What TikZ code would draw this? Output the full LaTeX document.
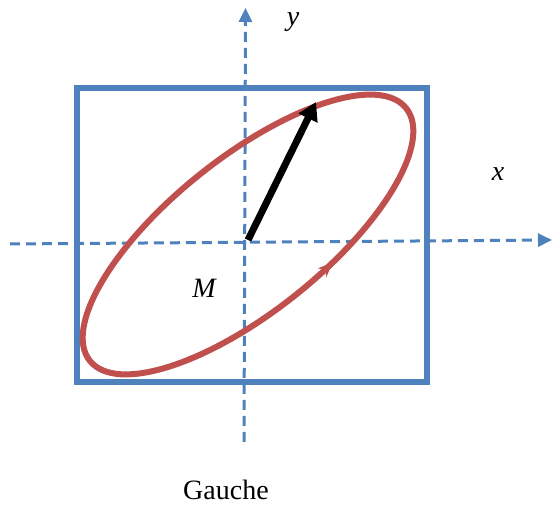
\documentclass[tikz,border=0pt]{standalone}
\usepackage{fontspec}
\setmainfont{Liberation Serif}
\usetikzlibrary{arrows.meta}
\definecolor{axblue}{HTML}{4F81BD}
\definecolor{elred}{HTML}{C0504D}
\begin{document}
\begin{tikzpicture}[x=1pt,y=1pt,
  axis/.style={draw=axblue, line width=3pt, dash pattern=on 10pt off 6pt,
    -{Triangle[length=14pt,width=13pt,fill=axblue]}},
  lbl/.style={font=\fontsize{28}{30}\selectfont\itshape, inner sep=0pt},
  captext/.style={font=\fontsize{28}{30}\selectfont, inner sep=0pt}]
\useasboundingbox (0,0) rectangle (552,508);
% frame
\draw[axblue, line width=6pt] (77,126) rectangle (427,420);
% axes
\coordinate (xs) at (10,264);
\coordinate (xe) at (552,268);
\coordinate (ys) at (244,66);
\coordinate (ye) at (245.5,500);
\draw[axis] (xs) -- (xe);
\draw[axis] (ys) -- (ye);
% ellipse
\begin{scope}[shift={(248,273.5)}, rotate=38.6]
  \draw[elred, line width=6pt] (0,0) ellipse [x radius=202.4, y radius=77];
  \coordinate (m0) at ({49.0-0.08*196.4},{-74.7-0.08*18.3});
  \coordinate (m1) at (49.0,-74.7);
  \draw[elred, line width=3pt, -{Stealth[length=15pt,width=12pt]}] (m0) -- (m1);
\end{scope}
% vector
\coordinate (o) at (248,268);
\coordinate (p) at (316,406);
\draw[black, line width=7pt, -{Triangle[length=18pt,width=20pt]}] (o) -- (p);
% labels
\node[lbl] (ly) at (293,486) {y};
\node[lbl] (lx) at (498,334) {x};
\node[lbl] (lm) at (204,220) {M};
\node[captext] (lg) at (226,18) {Gauche};
\end{tikzpicture}
\end{document}
